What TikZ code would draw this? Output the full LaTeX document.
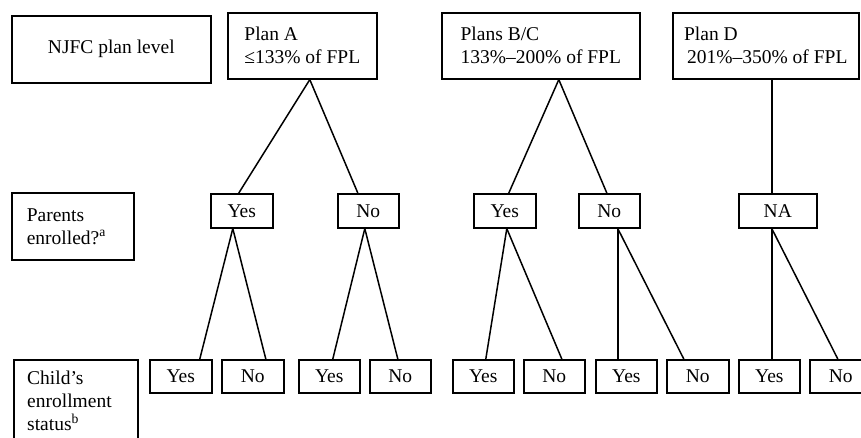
\documentclass[tikz,border=0pt]{standalone}
\usepackage{fontspec}
\setmainfont{Liberation Serif}
\begin{document}
\begin{tikzpicture}[x=1pt,y=-1pt,
  every node/.style={font=\fontsize{19.5}{23}\selectfont},
  box/.style={draw, line width=1.6pt, inner sep=0pt, anchor=north west},
  link/.style={line width=1.5pt}]
\useasboundingbox (0,0) rectangle (861,437);
\fill[white] (0,0) rectangle (861,437);
\clip (0,0) rectangle (861,437);
% level labels
\node[box, minimum width=199pt, minimum height=67pt] (njfc) at (11,15) {NJFC plan level};
\node[box, minimum width=122pt, minimum height=67pt, text width=92pt, inner xsep=15pt, align=left] (par) at (11,192) {Parents\\enrolled?\textsuperscript{a}};
\node[box, minimum width=124pt, minimum height=95pt] (cbox) at (13,359) {};
\node[anchor=north west, align=left, inner sep=0pt] (ctxt) at (27,371) {Child’s\\enrollment\\status\textsuperscript{b}};
% plans
\node[box, minimum width=149pt, minimum height=66pt, align=left] (pA) at (227,12) {Plan A\\≤133\% of FPL};
\node[box, minimum width=198pt, minimum height=66pt, align=left] (pBC) at (441,12) {Plans B/C\\133\%--200\% of FPL};
\node[box, minimum width=186pt, minimum height=66pt, align=left] (pD) at (672,12) {Plan D\\[0pt]\hspace*{3pt}201\%--350\% of FPL};
% parents row
\node[box, minimum width=62pt, minimum height=34pt] (ay) at (210,193) {Yes};
\node[box, minimum width=61pt, minimum height=34pt] (an) at (337,193) {No};
\node[box, minimum width=62pt, minimum height=34pt] (by) at (473,193) {Yes};
\node[box, minimum width=61pt, minimum height=34pt] (bn) at (578,193) {No};
\node[box, minimum width=78pt, minimum height=34pt] (dna) at (738,193) {NA};
% child row
\node[box, minimum width=62pt, minimum height=33pt] (c1) at (149,359) {Yes};
\node[box, minimum width=62pt, minimum height=33pt] (c2) at (221,359) {No};
\node[box, minimum width=61pt, minimum height=33pt] (c3) at (298,359) {Yes};
\node[box, minimum width=61pt, minimum height=33pt] (c4) at (369,359) {No};
\node[box, minimum width=61pt, minimum height=33pt] (c5) at (452,359) {Yes};
\node[box, minimum width=61pt, minimum height=33pt] (c6) at (523,359) {No};
\node[box, minimum width=61pt, minimum height=33pt] (c7) at (595,359) {Yes};
\node[box, minimum width=62pt, minimum height=33pt] (c8) at (666,359) {No};
\node[box, minimum width=61pt, minimum height=33pt] (c9) at (738,359) {Yes};
\node[box, minimum width=62pt, minimum height=33pt] (c10) at (809,359) {No};
% connectors
\draw[link] ([xshift=7.5pt]pA.south) -- ([xshift=-3pt]ay.north);
\draw[link] ([xshift=7.5pt]pA.south) -- ([xshift=-10.5pt]an.north);
\draw[link] ([xshift=18pt]pBC.south) -- ([xshift=4pt]by.north);
\draw[link] ([xshift=18pt]pBC.south) -- ([xshift=-2.5pt]bn.north);
\draw[link] ([xshift=6pt]pD.south) -- ([xshift=-6pt]dna.north);
\draw[link] ([xshift=-9pt]ay.south) -- ([xshift=19pt]c1.north);
\draw[link] ([xshift=-9pt]ay.south) -- ([xshift=13pt]c2.north);
\draw[link] ([xshift=-3.5pt]an.south) -- ([xshift=3.5pt]c3.north);
\draw[link] ([xshift=-3.5pt]an.south) -- ([xshift=-2.5pt]c4.north);
\draw[link] ([xshift=2pt]by.south) -- ([xshift=2.5pt]c5.north);
\draw[link] ([xshift=2pt]by.south) -- ([xshift=7.5pt]c6.north);
\draw[link] ([xshift=8.5pt]bn.south) -- ([xshift=-8.5pt]c7.north);
\draw[link] ([xshift=8.5pt]bn.south) -- ([xshift=-14pt]c8.north);
\draw[link] ([xshift=-6pt]dna.south) -- ([xshift=2.5pt]c9.north);
\draw[link] ([xshift=-6pt]dna.south) -- ([xshift=-3pt]c10.north);
\end{tikzpicture}
\end{document}
